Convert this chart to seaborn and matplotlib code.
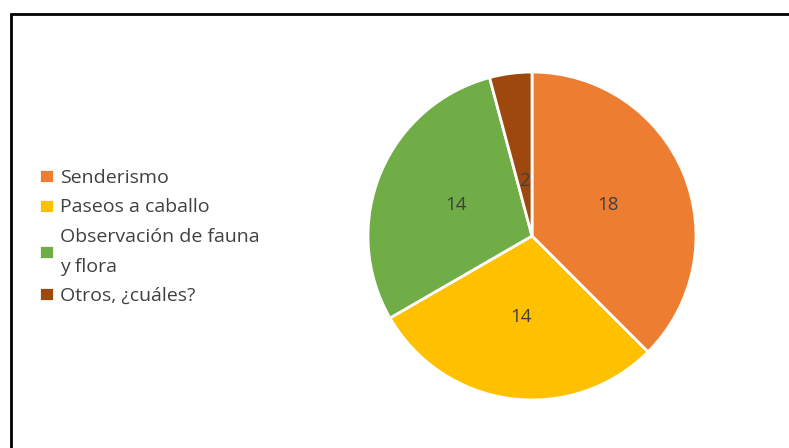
import matplotlib
matplotlib.use('Agg')
import matplotlib.pyplot as plt
import seaborn as sns
from matplotlib.patches import Rectangle

# Data
categories = ['Senderismo', 'Paseos a caballo', 'Observación de fauna\ny flora', 'Otros, ¿cuáles?']
values = [18, 14, 14, 2]
colors = ['#ED7D31', '#FFC000', '#70AD47', '#9E480E']

sns.set_theme(style='white')
plt.rcParams['font.family'] = ['Open Sans', 'DejaVu Sans']
text_color = '#404040'

W, H = 789, 448
fig = plt.figure(figsize=(W / 100, H / 100), dpi=100)

# Pie placed so the circle has radius ~164px centred at (532, 236)
cx, cy, r = 532, 236, 164
ax = fig.add_axes([(cx - r) / W, (H - cy - r) / H, 2 * r / W, 2 * r / H])

total = sum(values)
wedges, texts, autotexts = ax.pie(
    values, colors=colors, startangle=90, counterclock=False,
    autopct=lambda p: f'{round(p * total / 100)}', pctdistance=0.5,
    wedgeprops=dict(edgecolor='white', linewidth=2),
    textprops=dict(color=text_color, fontsize=13.5))
# small slice label sits nearer the centre
x, y = autotexts[3].get_position()
autotexts[3].set_position((x * 0.68, y * 0.68))
ax.set_xlim(-1, 1)
ax.set_ylim(-1, 1)
ax.set_aspect('equal')
ax.axis('off')

leg = fig.legend(wedges, categories, loc='center left',
                 bbox_to_anchor=(39 / W, 1 - 237 / H), frameon=False,
                 borderaxespad=0, borderpad=0,
                 handlelength=0.75, handleheight=0.75, handletextpad=0.35,
                 labelspacing=0.58, fontsize=14)
for t in leg.get_texts():
    t.set_color(text_color)
    t.set_linespacing(1.85)

# Outer frame (cropped on the right and bottom in the reference)
fig.patches.append(Rectangle((10.5 / W, -0.1), 1.2, 1 - 14.5 / H + 0.1,
                             transform=fig.transFigure, fill=False,
                             edgecolor='black', linewidth=2, zorder=10))

fig.savefig('out.png', dpi=100)
